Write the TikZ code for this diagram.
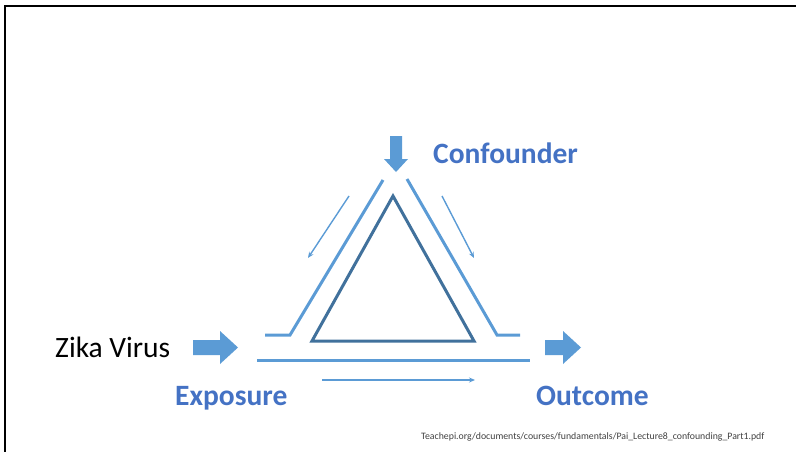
\documentclass[tikz,border=0pt]{standalone}
\usepackage{fontspec}
\setmainfont{Carlito}
\usetikzlibrary{arrows.meta}
\definecolor{lblue}{HTML}{5B9BD5}
\definecolor{tblue}{HTML}{4472C4}
\definecolor{dblue}{HTML}{41719C}
\tikzset{
  outline/.style={draw=lblue, line width=3pt},
  thinarrow/.style={draw=lblue, line width=1.4pt, -{Stealth[length=6pt,width=5pt]}},
  blockarrow/.style={fill=lblue, draw=none},
  lbl/.style={text=tblue, font=\bfseries\fontsize{29.5}{32}\selectfont, inner sep=0pt, anchor=base west},
  plain/.style={text=black, font=\fontsize{29.5}{32}\selectfont, inner sep=0pt, anchor=base west},
  cite/.style={text=black!75, font=\fontsize{9.8}{11}\selectfont, inner sep=0pt, anchor=base west}
}
\begin{document}
\begin{tikzpicture}[x=1pt,y=-1pt]
\useasboundingbox (0,0) rectangle (796,452);
% frame
\draw[line width=2pt] (5,452) -- (5,6) -- (796,6);
% block arrows
\fill[blockarrow] (390,136) -- (402,136) -- (402,159) -- (408,159) -- (396,172) -- (384,159) -- (390,159) -- cycle;
\fill[blockarrow] (193,340) -- (220,340) -- (220,331) -- (238,347.5) -- (220,364) -- (220,355) -- (193,355) -- cycle;
\fill[blockarrow] (545,340) -- (563,340) -- (563,331) -- (581,347.5) -- (563,364) -- (563,355) -- (545,355) -- cycle;
% coordinates
\coordinate (oltop) at (383,180);
\coordinate (olbot) at (290,335);
\coordinate (olend) at (265,335);
\coordinate (ortop) at (407,179);
\coordinate (orbot) at (497,335);
\coordinate (orend) at (520,335);
\coordinate (bl) at (257,360.5);
\coordinate (br) at (530,360.5);
\coordinate (ta) at (393,196);
\coordinate (tl) at (312,341);
\coordinate (tr) at (474,341);
% outer lines
\draw[outline] (oltop) -- (olbot) -- (olend);
\draw[outline] (ortop) -- (orbot) -- (orend);
\draw[outline] (bl) -- (br);
% inner triangle
\draw[draw=dblue, line width=3pt, line join=miter] (ta) -- (tl) -- (tr) -- cycle;
% thin arrows
\coordinate (a1s) at (349,196);
\coordinate (a1e) at (308,258);
\coordinate (a2s) at (442,196);
\coordinate (a2e) at (474,258);
\coordinate (a3s) at (322,380);
\coordinate (a3e) at (475,380);
\draw[thinarrow] (a1s) -- (a1e);
\draw[thinarrow] (a2s) -- (a2e);
\draw[thinarrow] (a3s) -- (a3e);
% labels
\node[lbl] (conf) at (433,164) {Confounder};
\node[lbl] (expo) at (175,405) {Exposure};
\node[lbl] (outc) at (536,405) {Outcome};
\node[plain] (zika) at (55,357) {Zika Virus};
\node[cite] (src) at (421,439) {Teachepi.org/documents/courses/fundamentals/Pai\_Lecture8\_confounding\_Part1.pdf};
\end{tikzpicture}
\end{document}
